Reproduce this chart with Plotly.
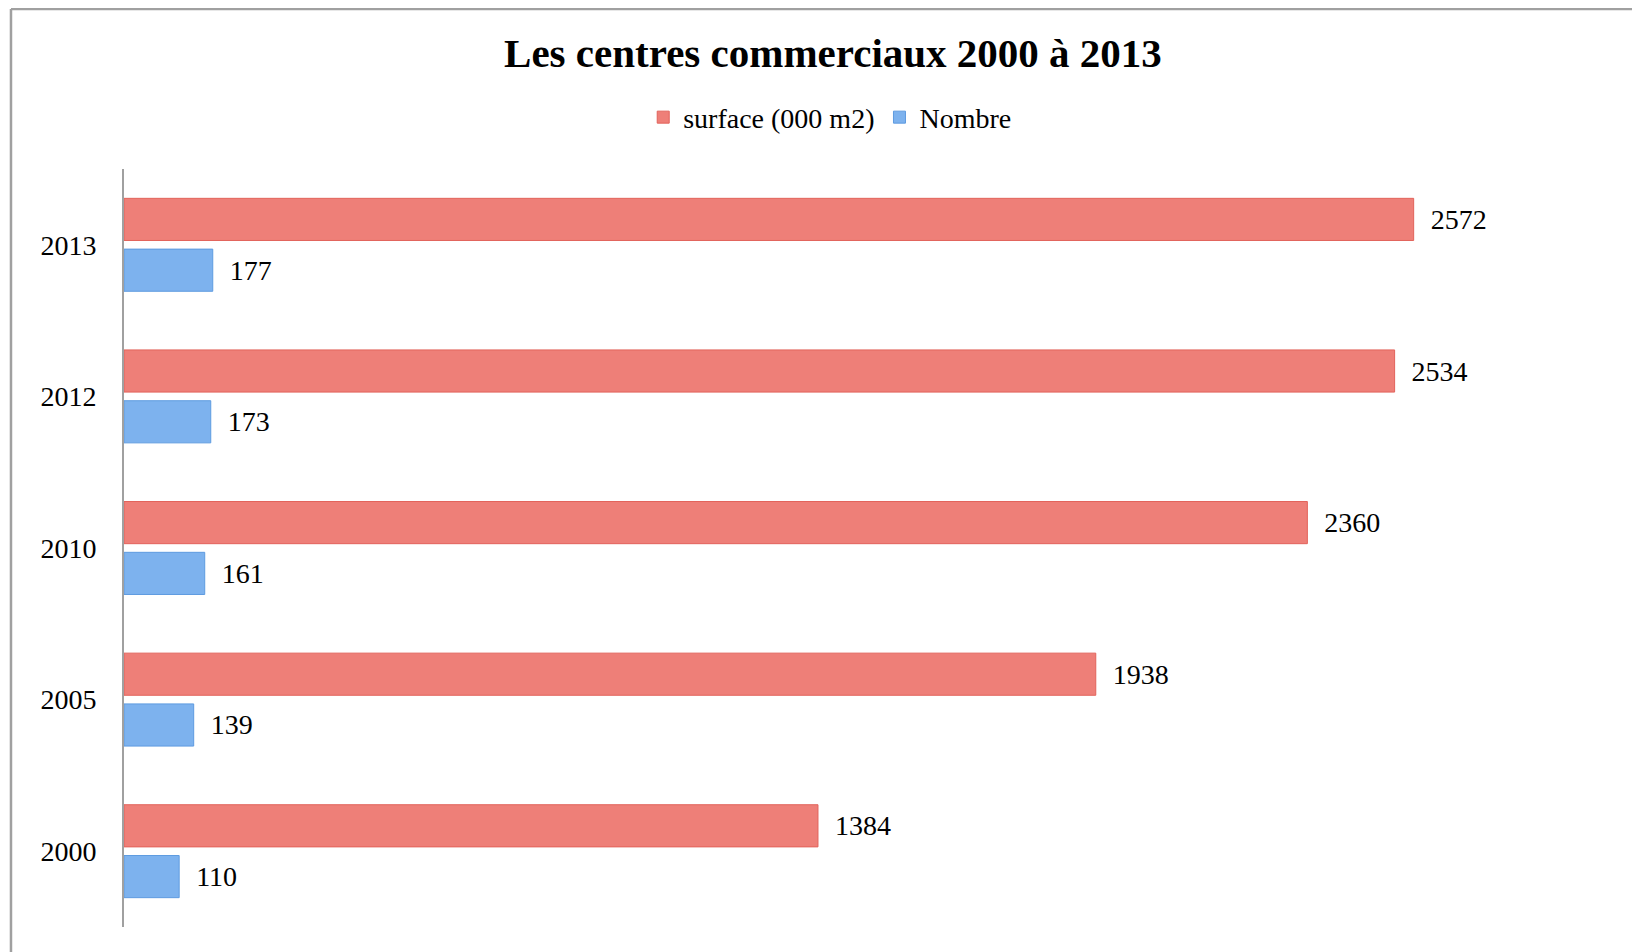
import plotly.graph_objects as go

years = ['2000', '2005', '2010', '2012', '2013']
surface = [1384, 1938, 2360, 2534, 2572]
nombre = [110, 139, 161, 173, 177]

red = '#EE7F78'
blue = '#7DB2EE'
serif = 'Liberation Serif, DejaVu Serif, serif'

fig = go.Figure()

# horizontal bars: first trace sits lower in the group, so Nombre first
fig.add_trace(go.Bar(
    y=years, x=nombre, orientation='h', name='Nombre',
    marker=dict(color=blue, line=dict(color='#5E9BE0', width=1)),
    text=nombre, texttemplate='  %{x}', textposition='outside',
    textfont=dict(family=serif, size=28, color='black'),
    cliponaxis=False, legendrank=2,
))
fig.add_trace(go.Bar(
    y=years, x=surface, orientation='h', name='surface (000 m2)',
    marker=dict(color=red, line=dict(color='#E2635B', width=1)),
    text=surface, texttemplate='  %{x}', textposition='outside',
    textfont=dict(family=serif, size=28, color='black'),
    cliponaxis=False, legendrank=1,
))

# outer frame of the chart (top and left edges)
fig.add_shape(type='line', xref='paper', yref='paper',
              x0=-0.0805, x1=1.2, y0=1.2111, y1=1.2111,
              line=dict(color='#A0A0A0', width=2.5))
fig.add_shape(type='line', xref='paper', yref='paper',
              x0=-0.0805, x1=-0.0805, y0=1.2111, y1=-0.1,
              line=dict(color='#A0A0A0', width=2.5))

fig.update_layout(
    width=1632, height=944,
    margin=dict(l=116, r=112, t=161, b=25),
    paper_bgcolor='white', plot_bgcolor='white',
    barmode='group', bargap=0.33, bargroupgap=0.17,
    title=dict(text='<b>Les centres commerciaux 2000 à 2013</b>',
               x=0.5055, xanchor='center', y=0.953, yanchor='middle',
               font=dict(family=serif, size=41, color='black')),
    legend=dict(orientation='h', x=0.503, xanchor='center', y=1.068, yanchor='middle',
                font=dict(family=serif, size=28, color='black'),
                itemwidth=30, tracegroupgap=0),
    showlegend=True,
    xaxis=dict(range=[0, 2800], visible=False, showgrid=False, zeroline=False),
    yaxis=dict(type='category', categoryorder='array', categoryarray=years,
               showline=True, linecolor='#A0A0A0', linewidth=2,
               ticks='', showgrid=False, zeroline=False, ticklabelstandoff=20,
               tickfont=dict(family=serif, size=28, color='black')),
)

fig.write_html('out.html')
